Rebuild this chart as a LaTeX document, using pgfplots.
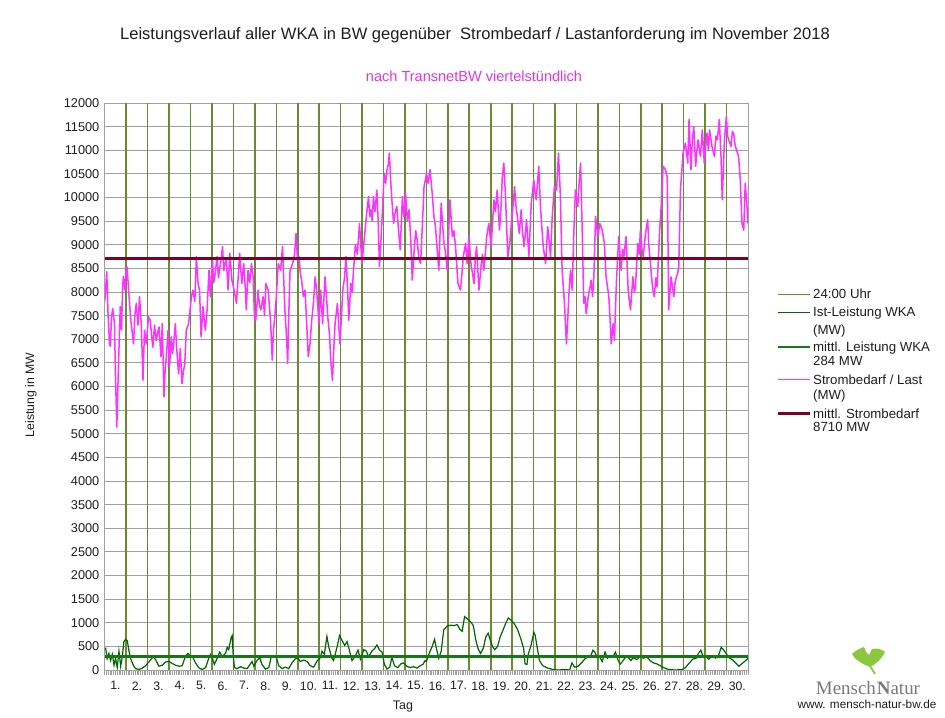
\documentclass[border=0pt]{standalone}
\usepackage{fontspec}
\setmainfont{Liberation Sans}
\newfontfamily\logofont{Liberation Serif}
\usepackage{pgfplots}
\pgfplotsset{compat=1.18}
\definecolor{pinkline}{RGB}{255,51,255}
\definecolor{subpink}{RGB}{230,50,230}
\definecolor{maroonline}{RGB}{123,0,38}
\definecolor{wkagreen}{RGB}{0,100,0}
\definecolor{meangreen}{RGB}{20,120,20}
\definecolor{dayline}{RGB}{105,140,50}
\definecolor{gridgray}{RGB}{160,160,160}
\definecolor{leafgreen}{RGB}{141,198,63}
\definecolor{logogray}{RGB}{120,120,120}
\definecolor{txt}{RGB}{30,30,30}

\pgfplotstableread{
x y
0.00 7800
0.09 8430
0.15 7550
0.22 6900
0.26 6850
0.31 7450
0.37 7650
0.45 7340
0.50 6200
0.56 5140
0.64 6480
0.72 7690
0.78 7200
0.83 8100
0.87 8330
0.94 8040
1.00 8460
1.04 8530
1.11 8040
1.18 7600
1.23 7330
1.34 6900
1.40 7500
1.47 7760
1.55 7300
1.62 7900
1.70 7330
1.78 6130
1.85 7190
1.93 6900
2.04 7470
2.12 7400
2.18 7100
2.24 6830
2.32 7300
2.40 6970
2.47 7150
2.53 7260
2.62 6630
2.68 7330
2.76 5780
2.81 6300
2.87 6630
2.95 7190
3.02 6420
3.10 7050
3.16 6700
3.21 6900
3.29 7330
3.37 6700
3.44 6270
3.52 6800
3.60 6060
3.66 6300
3.73 6480
3.80 7190
3.91 7330
4.04 7900
4.11 8040
4.20 7800
4.27 8750
4.35 8180
4.42 8040
4.49 7050
4.58 7690
4.64 7400
4.69 7190
4.77 7620
4.86 8460
4.92 7900
5.02 8670
5.08 8200
5.13 8320
5.24 8750
5.30 8300
5.36 8500
5.43 8700
5.49 8960
5.55 8450
5.60 8600
5.67 8670
5.75 8040
5.83 8820
5.93 8250
6.03 8040
6.14 7760
6.22 8300
6.29 8820
6.39 8180
6.48 8600
6.55 8100
6.60 7620
6.68 8460
6.76 8200
6.84 8600
6.92 8320
6.98 7470
7.04 7400
7.15 8040
7.22 7700
7.28 7620
7.38 7900
7.45 7500
7.51 8180
7.62 8040
7.73 7400
7.81 6560
7.87 7200
7.93 7470
8.00 7900
8.09 8600
8.20 8460
8.29 8960
8.35 8200
8.40 7620
8.47 7100
8.53 6490
8.58 7500
8.64 8460
8.76 8600
8.85 8800
8.92 9240
8.99 8670
9.06 8750
9.12 8400
9.18 8250
9.26 7900
9.34 8040
9.42 7300
9.49 6630
9.57 6900
9.65 7400
9.73 7760
9.81 8320
9.88 8040
9.99 7330
10.07 8040
10.16 7330
10.27 8320
10.34 7900
10.40 7470
10.48 7100
10.55 6490
10.62 6130
10.68 6800
10.74 7330
10.85 7760
10.91 7300
10.97 6900
11.04 7500
11.10 8040
11.18 8300
11.25 8750
11.32 8100
11.38 7400
11.47 8180
11.54 8000
11.60 8460
11.69 9000
11.78 8800
11.88 9450
11.94 9000
11.99 8600
12.07 8960
12.14 9300
12.20 9600
12.30 10020
12.36 9600
12.41 9740
12.47 9500
12.53 10020
12.60 9700
12.69 10160
12.75 9500
12.81 8540
12.87 9000
12.92 9450
13.03 10510
13.10 10300
13.16 10580
13.22 10700
13.27 10940
13.33 10400
13.39 9950
13.47 9450
13.55 9700
13.62 9810
13.70 9300
13.78 8890
13.88 10020
13.95 9600
14.03 10090
14.11 9500
14.19 9740
14.27 9100
14.34 8250
14.42 8820
14.50 9300
14.57 9100
14.65 8700
14.73 8600
14.81 9400
14.89 10230
15.01 10510
15.08 10300
15.17 10590
15.27 10090
15.35 9600
15.42 9400
15.48 9030
15.58 8460
15.64 9300
15.69 9880
15.76 9400
15.82 9030
15.90 8800
15.97 8460
16.04 9300
16.10 9950
16.21 9170
16.28 9300
16.36 8960
16.47 8180
16.59 8040
16.66 8400
16.72 8750
16.83 9030
16.90 8600
16.98 9170
17.09 8540
17.15 8400
17.22 8180
17.28 8700
17.34 8960
17.45 8040
17.56 8600
17.62 8800
17.68 8460
17.75 8800
17.81 9170
17.91 9450
18.02 8960
18.09 9500
18.15 9950
18.22 9700
18.30 10160
18.41 9310
18.48 9800
18.54 10440
18.61 10730
18.69 10020
18.75 9300
18.80 8750
18.89 9030
19.00 9670
19.06 9900
19.11 10230
19.18 9800
19.24 9600
19.33 9240
19.42 9740
19.48 9300
19.55 8960
19.61 9200
19.67 9530
19.78 8750
19.89 9880
20.01 10370
20.07 10100
20.12 9950
20.18 10300
20.24 10660
20.32 9810
20.38 9400
20.45 8960
20.56 8600
20.66 9380
20.72 9100
20.79 8750
20.87 9600
20.97 10230
21.07 10160
21.16 10940
21.25 10020
21.33 8460
21.44 7760
21.53 6900
21.58 7300
21.64 7900
21.72 8460
21.80 8040
21.88 9310
21.95 10160
22.06 9810
22.12 10300
22.19 10730
22.26 9450
22.34 7760
22.40 7900
22.45 7540
22.52 7800
22.57 7970
22.63 8100
22.68 8250
22.75 7900
22.81 8320
22.89 9600
22.99 9170
23.09 9450
23.20 9310
23.30 9030
23.38 8320
23.45 8100
23.51 7900
23.57 7400
23.62 6900
23.71 7330
23.77 6980
23.86 8180
23.97 9170
24.03 8800
24.08 8460
24.15 8900
24.21 8750
24.31 9170
24.41 8040
24.47 7800
24.52 7620
24.58 8000
24.63 8320
24.70 8000
24.75 8110
24.86 9030
24.93 8800
24.98 9310
25.05 8900
25.11 8750
25.22 9240
25.32 9530
25.37 9000
25.42 8750
25.53 8180
25.58 8000
25.63 7900
25.70 8300
25.76 8110
25.82 8700
25.88 9310
25.95 9810
26.04 10660
26.15 10590
26.23 10440
26.27 9000
26.30 7620
26.36 8000
26.41 8320
26.48 8100
26.54 7900
26.60 8200
26.66 8320
26.72 8400
26.77 8540
26.85 10160
26.97 10940
27.08 11150
27.19 10730
27.25 11650
27.34 10590
27.40 11200
27.47 11500
27.56 10660
27.62 11000
27.67 11220
27.78 10870
27.87 11430
27.96 10730
28.03 11100
28.09 11360
28.15 11000
28.21 11430
28.32 11080
28.43 10870
28.50 11300
28.56 11220
28.61 11400
28.66 11650
28.74 10870
28.80 9950
28.90 11220
28.99 11720
29.05 11300
29.10 11220
29.21 11080
29.27 11400
29.33 11360
29.40 11100
29.46 11010
29.56 10870
29.64 10370
29.72 9450
29.80 9310
29.87 10300
29.94 9900
30.00 9450
}\lastdata

\pgfplotstableread{
x y
0.00 450
0.04 460
0.11 240
0.19 350
0.27 200
0.35 330
0.43 100
0.50 250
0.58 50
0.66 400
0.74 80
0.81 260
0.89 600
0.97 650
1.05 620
1.12 420
1.20 250
1.33 100
1.43 30
1.59 10
1.75 40
1.90 90
2.05 170
2.26 280
2.37 220
2.52 80
2.68 100
2.83 170
2.99 180
3.14 140
3.30 100
3.46 80
3.61 90
3.77 300
3.88 350
4.00 300
4.12 260
4.23 150
4.38 50
4.54 10
4.70 50
4.85 250
4.93 330
5.01 260
5.11 120
5.24 250
5.36 380
5.47 290
5.63 350
5.71 480
5.78 430
5.89 680
5.94 730
5.99 300
6.05 50
6.17 30
6.33 70
6.48 40
6.64 30
6.87 180
6.95 80
7.10 200
7.23 260
7.33 120
7.49 20
7.65 50
7.76 280
7.89 290
8.01 260
8.11 90
8.27 30
8.42 60
8.58 30
8.73 150
8.89 240
9.00 250
9.12 180
9.28 210
9.43 180
9.59 90
9.74 60
9.90 190
10.05 260
10.13 400
10.24 330
10.36 710
10.44 500
10.59 250
10.67 200
10.83 480
10.95 730
11.07 620
11.19 520
11.30 600
11.42 400
11.53 200
11.69 300
11.81 420
11.92 230
12.08 430
12.20 400
12.30 280
12.46 400
12.58 450
12.69 530
12.82 420
12.93 380
13.04 120
13.16 20
13.29 60
13.39 270
13.51 90
13.66 50
13.81 130
13.93 150
14.09 80
14.24 50
14.40 70
14.56 40
14.71 90
14.84 120
14.94 200
15.00 180
15.11 330
15.27 500
15.38 650
15.47 450
15.58 250
15.69 400
15.81 850
15.97 930
16.13 950
16.28 940
16.44 960
16.56 860
16.67 820
16.78 1130
16.91 1080
17.06 1020
17.19 940
17.30 640
17.41 450
17.53 350
17.66 470
17.77 700
17.88 780
17.97 650
18.08 500
18.19 430
18.32 500
18.44 700
18.55 820
18.71 1000
18.82 1100
18.94 1060
19.10 980
19.25 860
19.41 650
19.54 450
19.60 130
19.69 120
19.76 350
19.88 520
20.01 800
20.07 740
20.16 500
20.27 200
20.43 90
20.66 40
20.90 10
21.13 0
21.44 10
21.68 0
21.79 150
21.91 60
22.07 80
22.23 150
22.38 230
22.54 290
22.66 300
22.77 420
22.85 380
22.98 260
23.09 270
23.20 180
23.33 380
23.45 250
23.56 300
23.71 290
23.82 380
23.92 230
24.03 120
24.14 180
24.30 280
24.42 260
24.54 200
24.65 260
24.81 220
24.96 280
25.12 250
25.28 280
25.43 200
25.59 150
25.75 130
25.91 90
26.06 50
26.29 10
26.61 0
26.92 10
27.08 50
27.23 130
27.42 230
27.58 250
27.70 360
27.80 420
27.89 300
28.05 280
28.17 230
28.33 300
28.49 250
28.64 330
28.75 480
28.87 420
28.98 350
29.11 260
29.27 220
29.42 150
29.58 80
29.73 140
29.89 200
30.00 250
}\wkadata

\begin{document}
\begin{tikzpicture}
\path[use as bounding box] (0bp,0bp) rectangle (945bp,718bp);
\begin{axis}[
  at={(104.8bp,48bp)}, anchor=south west,
  scale only axis, width=643.2bp, height=567bp,
  xmin=0, xmax=30, ymin=0, ymax=12000,
  ytick={0,500,...,12000},
  scaled ticks=false,
  xtick={0.5,1.5,...,29.5},
  xticklabels={1.,2.,3.,4.,5.,6.,7.,8.,9.,10.,11.,12.,13.,14.,15.,16.,17.,18.,19.,20.,21.,22.,23.,24.,25.,26.,27.,28.,29.,30.},
  minor xtick={0,0.0833333,...,30},
  major tick length=0pt,
  minor tick length=5bp,
  tick align=outside,
  tick pos=left,
  minor x tick style={gridgray, line width=0.9bp},
  ymajorgrids=true,
  major grid style={gridgray, line width=0.9bp},
  axis line style={gridgray, line width=0.9bp},
  /pgf/number format/1000 sep={},
  /pgf/number format/assume math mode=true,
  yticklabel style={font=\fontsize{12.8}{14}\selectfont, text=txt, xshift=-2bp},
  xticklabel style={font=\fontsize{12.3}{14}\selectfont, text=txt, yshift=-8bp},
  no markers,
]
\addplot[dayline, line width=1.6bp, ycomb] coordinates {(1,12000) (2,12000) (3,12000) (4,12000) (5,12000) (6,12000) (7,12000) (8,12000) (9,12000) (10,12000) (11,12000) (12,12000) (13,12000) (14,12000) (15,12000) (16,12000) (17,12000) (18,12000) (19,12000) (20,12000) (21,12000) (22,12000) (23,12000) (24,12000) (25,12000) (26,12000) (27,12000) (28,12000) (29,12000)};
\addplot[wkagreen, line width=1.2bp] table[x=x,y=y] {\wkadata};
\addplot[meangreen, line width=2.2bp] coordinates {(0,284) (30,284)};
\addplot[pinkline, line width=1.5bp, line join=round] table[x=x,y=y] {\lastdata};
\addplot[maroonline, line width=3.2bp] coordinates {(0,8710) (30,8710)};
\end{axis}

\begin{scope}[x=1bp,y=1bp]
% titles
\node[text=txt, font=\fontsize{16.6}{18}\selectfont] at (475,683) {Leistungsverlauf aller WKA in BW gegenüber~ Strombedarf / Lastanforderung im November 2018};
\node[text=subpink, font=\fontsize{14.6}{16}\selectfont] at (474,642) {nach TransnetBW viertelstündlich};
\node[text=txt, rotate=90, font=\fontsize{12.3}{14}\selectfont] at (31,323) {Leistung in MW};
\node[text=txt, font=\fontsize{12.5}{14}\selectfont] at (403,11) {Tag};

% legend
\draw[dayline, line width=0.9bp] (778,423.7) -- (810,423.7);
\draw[wkagreen, line width=1.1bp] (778,405.7) -- (810,405.7);
\draw[meangreen, line width=2.2bp] (778,371.3) -- (810,371.3);
\draw[pinkline, line width=1.2bp] (778,338.7) -- (810,338.7);
\draw[maroonline, line width=3.2bp] (778,304.7) -- (810,304.7);
\begin{scope}[every node/.style={anchor=base west, inner sep=0pt, text=txt, font=\fontsize{13.3}{15}\selectfont}]
\node at (813,419.0) {24:00 Uhr};
\node at (813,401.0) {Ist-Leistung WKA};
\node at (813,384.0) {(MW)};
\node at (813,366.5) {mittl. Leistung WKA};
\node at (813,352.5) {284 MW};
\node at (813,334.0) {Strombedarf / Last};
\node at (813,318.2) {(MW)};
\node at (813,300.0) {mittl. Strombedarf};
\node at (813,286.5) {8710 MW};
\end{scope}

% logo
\fill[leafgreen] (870,51) .. controls (862,54) and (854,59) .. (852,64)
  .. controls (856,68) and (861,70) .. (864,71)
  -- (866,66) -- (869,63)
  -- (872,69)
  .. controls (877,70) and (882,69) .. (885,66)
  .. controls (882,59) and (876,54) .. cycle;
\draw[leafgreen, line width=1.8bp] (870,52) -- (875,44);
\node[text=logogray, font=\logofont\fontsize{19}{20}\selectfont] at (868,30) {Mensch\kern1bp{\bfseries N}atur};
\node[text=txt, font=\fontsize{11.8}{13}\selectfont] at (867,14) {www. mensch-natur-bw.de};
\end{scope}
\end{tikzpicture}
\end{document}
